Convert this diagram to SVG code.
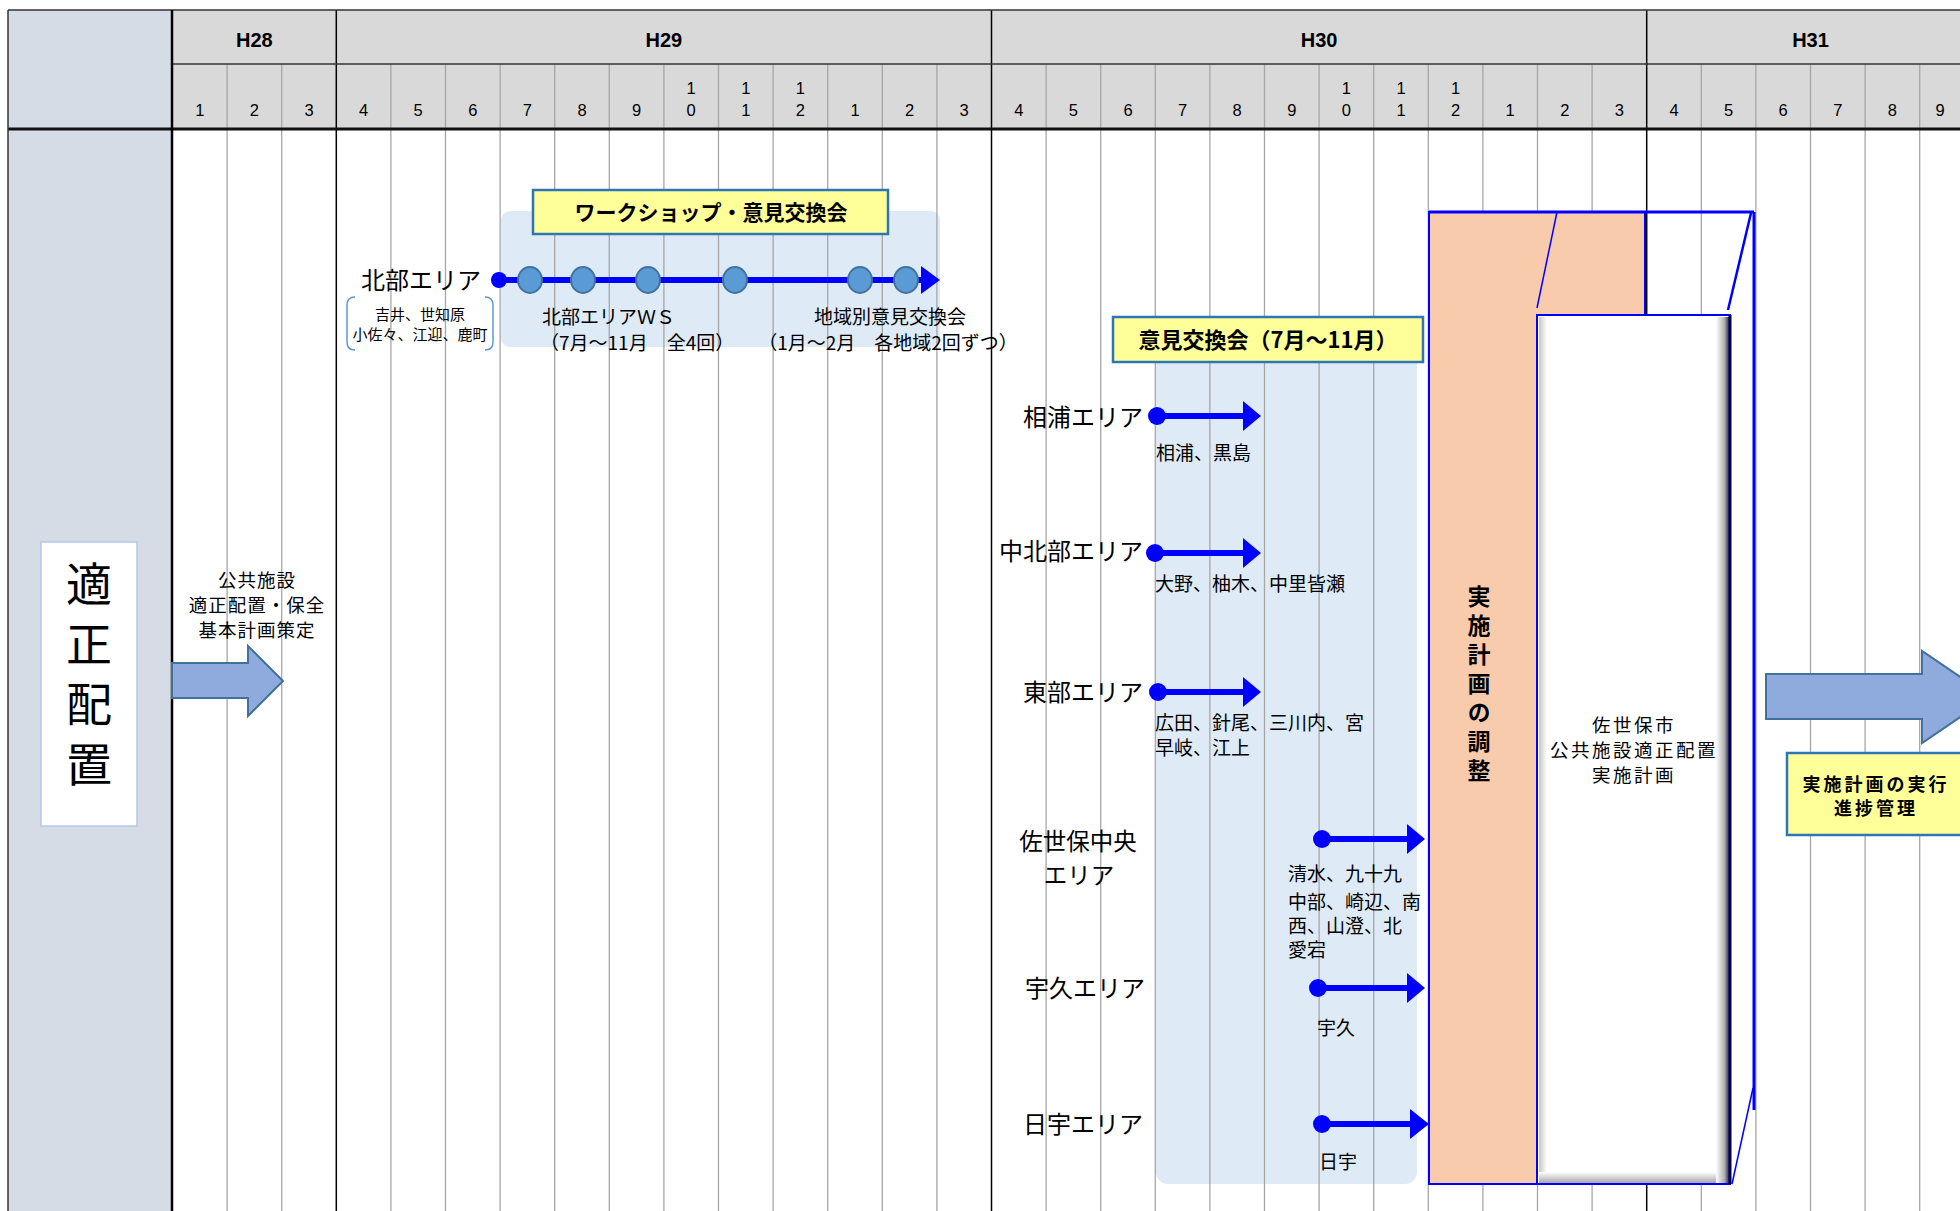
<svg xmlns="http://www.w3.org/2000/svg" width="1960" height="1211" viewBox="0 0 1960 1211">
<style>
.jp{font-family:"Noto Sans CJK JP","Noto Sans",sans-serif;fill:#000}
.num{font-family:"Liberation Sans",Arial,sans-serif;font-size:16.5px;fill:#000;text-anchor:middle}
.yr{font-family:"Liberation Sans",Arial,sans-serif;font-size:20px;font-weight:bold;fill:#000;text-anchor:middle}
.ml{stroke:#a6a6a6;stroke-width:1.3}
.yl{stroke:#000;stroke-width:1.5}
.tl{stroke:#0000ff;stroke-width:6;fill:none}
.hd{fill:#0000ff}
.area{font-size:24px;text-anchor:end}
.sub{font-size:19px}
.ws{fill:#5b9bd5;stroke:#41719c;stroke-width:2}
.yel{fill:#ffff99;stroke:#2e75b6;stroke-width:2.5}
.blk{fill:#8faadc;stroke:#41719c;stroke-width:2}
.vt{writing-mode:vertical-rl;text-anchor:middle}
</style>
<defs>
<linearGradient id="gR" x1="0" y1="0" x2="1" y2="0">
<stop offset="0" stop-color="#fff"/><stop offset="0.6" stop-color="#b0b0b0"/><stop offset="1" stop-color="#101040"/>
</linearGradient>
<linearGradient id="gB" x1="0" y1="0" x2="0" y2="1">
<stop offset="0" stop-color="#fff"/><stop offset="1" stop-color="#a0a0a0"/>
</linearGradient>
<linearGradient id="gL" x1="0" y1="0" x2="1" y2="0">
<stop offset="0" stop-color="#c8c8c8"/><stop offset="1" stop-color="#fff"/>
</linearGradient>
</defs>

<g id="background">
<rect x="0" y="0" width="1960" height="1211" fill="#fff"/>
<rect x="8" y="10" width="164" height="1201" fill="#d6dce5"/>
<rect x="172" y="10" width="1788" height="119" fill="#d9d9d9"/>
<rect x="501" y="211" width="439" height="136" rx="9" fill="#deebf7"/>
<rect x="1156" y="354" width="261" height="830" rx="12" fill="#deebf7"/>
</g>

<g id="grid">
<g class="ml">
<line x1="227.1" y1="64" x2="227.1" y2="1211"/><line x1="281.7" y1="64" x2="281.7" y2="1211"/>
<line x1="390.9" y1="64" x2="390.9" y2="1211"/><line x1="445.5" y1="64" x2="445.5" y2="1211"/><line x1="500.1" y1="64" x2="500.1" y2="1211"/><line x1="554.7" y1="64" x2="554.7" y2="1211"/><line x1="609.3" y1="64" x2="609.3" y2="1211"/><line x1="663.9" y1="64" x2="663.9" y2="1211"/><line x1="718.5" y1="64" x2="718.5" y2="1211"/><line x1="773.1" y1="64" x2="773.1" y2="1211"/><line x1="827.7" y1="64" x2="827.7" y2="1211"/><line x1="882.3" y1="64" x2="882.3" y2="1211"/><line x1="936.9" y1="64" x2="936.9" y2="1211"/>
<line x1="1046.1" y1="64" x2="1046.1" y2="1211"/><line x1="1100.7" y1="64" x2="1100.7" y2="1211"/><line x1="1155.3" y1="64" x2="1155.3" y2="1211"/><line x1="1209.9" y1="64" x2="1209.9" y2="1211"/><line x1="1264.5" y1="64" x2="1264.5" y2="1211"/><line x1="1319.1" y1="64" x2="1319.1" y2="1211"/><line x1="1373.7" y1="64" x2="1373.7" y2="1211"/><line x1="1428.3" y1="64" x2="1428.3" y2="1211"/><line x1="1482.9" y1="64" x2="1482.9" y2="1211"/><line x1="1537.5" y1="64" x2="1537.5" y2="1211"/><line x1="1592.1" y1="64" x2="1592.1" y2="1211"/>
<line x1="1701.3" y1="64" x2="1701.3" y2="1211"/><line x1="1755.9" y1="64" x2="1755.9" y2="1211"/><line x1="1810.5" y1="64" x2="1810.5" y2="1211"/><line x1="1865.1" y1="64" x2="1865.1" y2="1211"/><line x1="1919.7" y1="64" x2="1919.7" y2="1211"/>
</g>
<g class="yl">
<line x1="336.3" y1="10" x2="336.3" y2="1211"/>
<line x1="991.5" y1="10" x2="991.5" y2="1211"/>
<line x1="1646.7" y1="10" x2="1646.7" y2="1211"/>
</g>
<line x1="8" y1="10" x2="1960" y2="10" stroke="#333" stroke-width="1.5"/>
<line x1="172" y1="64" x2="1960" y2="64" stroke="#333" stroke-width="1.5"/>
<line x1="8" y1="129" x2="1960" y2="129" stroke="#111" stroke-width="3"/>
<line x1="8" y1="10" x2="8" y2="1211" stroke="#333" stroke-width="1.5"/>
<line x1="172" y1="10" x2="172" y2="1211" stroke="#000" stroke-width="2.5"/>
</g>

<g id="header-labels">
<text class="yr" x="254.4" y="47">H28</text>
<text class="yr" x="663.9" y="47">H29</text>
<text class="yr" x="1319.1" y="47">H30</text>
<text class="yr" x="1810.5" y="47">H31</text>
<g class="num">
<text x="199.8" y="116">1</text><text x="254.4" y="116">2</text><text x="309" y="116">3</text>
<text x="363.6" y="116">4</text><text x="418.2" y="116">5</text><text x="472.8" y="116">6</text><text x="527.4" y="116">7</text><text x="582" y="116">8</text><text x="636.6" y="116">9</text>
<text x="691.2" y="94">1<tspan x="691.2" y="116">0</tspan></text>
<text x="745.8" y="94">1<tspan x="745.8" y="116">1</tspan></text>
<text x="800.4" y="94">1<tspan x="800.4" y="116">2</tspan></text>
<text x="855" y="116">1</text><text x="909.6" y="116">2</text><text x="964.2" y="116">3</text>
<text x="1018.8" y="116">4</text><text x="1073.4" y="116">5</text><text x="1128" y="116">6</text><text x="1182.6" y="116">7</text><text x="1237.2" y="116">8</text><text x="1291.8" y="116">9</text>
<text x="1346.4" y="94">1<tspan x="1346.4" y="116">0</tspan></text>
<text x="1401" y="94">1<tspan x="1401" y="116">1</tspan></text>
<text x="1455.6" y="94">1<tspan x="1455.6" y="116">2</tspan></text>
<text x="1510.2" y="116">1</text><text x="1564.8" y="116">2</text><text x="1619.4" y="116">3</text>
<text x="1674" y="116">4</text><text x="1728.6" y="116">5</text><text x="1783.2" y="116">6</text><text x="1837.8" y="116">7</text><text x="1892.4" y="116">8</text><text x="1940" y="116">9</text>
</g>
</g>

<g id="node-tekisei-haichi">
<rect x="41" y="542" width="96" height="284" fill="#fff" stroke="#b4c7e7" stroke-width="1.5"/>
<text class="jp vt" x="89" y="681" font-size="46" letter-spacing="14">適正配置</text>
</g>

<g id="node-kihon-keikaku">
<polygon class="blk" points="172,663 248,663 248,646 283,681 248,716 248,698 172,698"/>
<text class="jp" x="257" y="587" font-size="18.5" letter-spacing="1" text-anchor="middle">公共施設<tspan x="257" y="612">適正配置・保全</tspan><tspan x="257" y="637">基本計画策定</tspan></text>
</g>

<g id="node-workshop">
<rect class="yel" x="533" y="190" width="355" height="44"/>
<text class="jp" x="711" y="220" font-size="21" font-weight="bold" text-anchor="middle">ワークショップ・意見交換会</text>
</g>

<g id="node-hokubu">
<text class="jp area" x="481" y="289">北部エリア</text>
<path d="M355,297 Q347,297 347,305 L347,342 Q347,350 355,350 M485,297 Q493,297 493,305 L493,342 Q493,350 485,350" fill="none" stroke="#5b9bd5" stroke-width="1.5"/>
<text class="jp" x="420" y="320" font-size="15" text-anchor="middle">吉井、世知原<tspan x="420" y="340">小佐々、江迎、鹿町</tspan></text>
<text class="jp sub" x="542" y="324">北部エリアＷＳ<tspan x="540" y="350">（7月～11月　全4回）</tspan></text>
<text class="jp sub" x="890" y="324" text-anchor="middle">地域別意見交換会<tspan x="888" y="350">（1月～2月　各地域2回ずつ）</tspan></text>
</g>

<g id="node-ikenkokan">
<rect class="yel" x="1113" y="317" width="310" height="45"/>
<text class="jp" x="1268" y="348" font-size="22" font-weight="bold" text-anchor="middle">意見交換会（7月～11月）</text>
</g>

<g id="node-areas" class="jp">
<text class="area" x="1143" y="426">相浦エリア</text>
<text class="area" x="1143" y="560">中北部エリア</text>
<text class="area" x="1143" y="701">東部エリア</text>
<text x="1078" y="850" font-size="23.5" text-anchor="middle">佐世保中央<tspan x="1079" y="884">エリア</tspan></text>
<text class="area" x="1145" y="997">宇久エリア</text>
<text class="area" x="1143" y="1133">日宇エリア</text>
<g class="sub">
<text x="1156" y="460">相浦、黒島</text>
<text x="1155" y="591">大野、柚木、中里皆瀬</text>
<text x="1155" y="730">広田、針尾、三川内、宮<tspan x="1155" y="755">早岐、江上</tspan></text>
<text x="1288" y="881">清水、九十九<tspan x="1288" y="909">中部、崎辺、南</tspan><tspan x="1288" y="933">西、山澄、北</tspan><tspan x="1288" y="957">愛宕</tspan></text>
<text x="1317" y="1035">宇久</text>
<text x="1319" y="1169">日宇</text>
</g>
</g>

<g id="node-chosei">
<polygon points="1429,212 1645,212 1645,315 1537,315 1537,1184 1429,1184" fill="#f8cbad" stroke="#0000ff" stroke-width="2"/>
<line x1="1429" y1="212" x2="1754" y2="212" stroke="#0000ff" stroke-width="3"/>
<line x1="1754" y1="212" x2="1754" y2="1110" stroke="#0000ff" stroke-width="3"/>
<line x1="1557" y1="212" x2="1537" y2="308" stroke="#0000ff" stroke-width="1.5"/>
<line x1="1751" y1="213" x2="1728" y2="310" stroke="#0000ff" stroke-width="2.5"/>
<line x1="1753" y1="1088" x2="1732" y2="1184" stroke="#0000ff" stroke-width="1.5"/>
<text class="jp vt" x="1479" y="686" font-size="23" font-weight="bold" letter-spacing="6">実施計画の調整</text>
</g>

<g id="node-jisshi-keikaku">
<rect x="1537" y="315" width="193" height="869" fill="#fff"/>
<rect x="1539" y="317" width="8" height="865" fill="url(#gL)"/>
<rect x="1539" y="1172" width="189" height="12" fill="url(#gB)"/>
<rect x="1716" y="317" width="14" height="867" fill="url(#gR)"/>
<rect x="1537" y="315" width="193" height="869" fill="none" stroke="#0000ff" stroke-width="2"/>
<line x1="1730" y1="315" x2="1730" y2="1184" stroke="#000050" stroke-width="3"/>
<text class="jp" x="1634" y="732" font-size="18.5" text-anchor="middle" letter-spacing="2.5">佐世保市<tspan x="1634" y="757">公共施設適正配置</tspan><tspan x="1634" y="782">実施計画</tspan></text>
</g>

<g id="node-jikko">
<polygon class="blk" points="1766,674 1922,674 1922,651 1990,697 1922,743 1922,719 1766,719"/>
<rect class="yel" x="1787" y="753" width="190" height="82"/>
<text class="jp" x="1876" y="791" font-size="18" font-weight="bold" letter-spacing="3" text-anchor="middle">実施計画の実行<tspan x="1876" y="815">進捗管理</tspan></text>
</g>

<g id="connectors">
<line class="tl" x1="499" y1="280" x2="923" y2="280"/>
<circle class="hd" cx="499" cy="280" r="8"/>
<polygon class="hd" points="921,266 940,280 921,294"/>
<ellipse class="ws" cx="530" cy="280" rx="12" ry="13"/>
<ellipse class="ws" cx="583" cy="280" rx="12" ry="13"/>
<ellipse class="ws" cx="648" cy="280" rx="12" ry="13"/>
<ellipse class="ws" cx="735" cy="280" rx="12" ry="13"/>
<ellipse class="ws" cx="860" cy="280" rx="12" ry="13"/>
<ellipse class="ws" cx="906" cy="280" rx="12" ry="13"/>

<line class="tl" x1="1157" y1="416" x2="1245" y2="416"/>
<circle class="hd" cx="1157" cy="416" r="9"/>
<polygon class="hd" points="1243,401 1261,416 1243,431"/>

<line class="tl" x1="1155" y1="553" x2="1245" y2="553"/>
<circle class="hd" cx="1155" cy="553" r="9"/>
<polygon class="hd" points="1243,538 1261,553 1243,568"/>

<line class="tl" x1="1158" y1="692" x2="1245" y2="692"/>
<circle class="hd" cx="1158" cy="692" r="9"/>
<polygon class="hd" points="1243,677 1261,692 1243,707"/>

<line class="tl" x1="1322" y1="839" x2="1409" y2="839"/>
<circle class="hd" cx="1322" cy="839" r="9"/>
<polygon class="hd" points="1407,824 1425,839 1407,854"/>

<line class="tl" x1="1318" y1="988" x2="1409" y2="988"/>
<circle class="hd" cx="1318" cy="988" r="9"/>
<polygon class="hd" points="1407,973 1425,988 1407,1003"/>

<line class="tl" x1="1322" y1="1124" x2="1412" y2="1124"/>
<circle class="hd" cx="1322" cy="1124" r="9"/>
<polygon class="hd" points="1410,1109 1429,1124 1410,1139"/>
</g>
</svg>
